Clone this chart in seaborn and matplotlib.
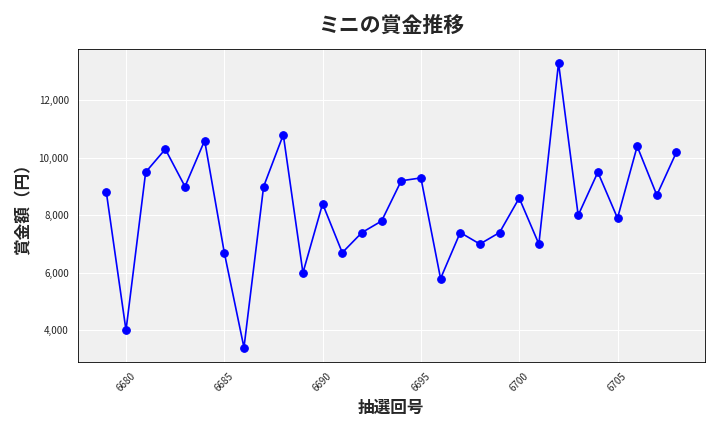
import numpy as np
import pandas as pd
import matplotlib
matplotlib.use("Agg")
import matplotlib.pyplot as plt
import seaborn as sns
from matplotlib.ticker import FuncFormatter

sns.set_style("whitegrid")
plt.rcParams['font.family'] = ['Noto Sans CJK JP', 'DejaVu Sans']

draws = list(range(6679, 6709))
prizes = [8800, 4000, 9500, 10300, 9000, 10600, 6700, 3400, 9000, 10800,
          6000, 8400, 6700, 7400, 7800, 9200, 9300, 5800, 7400, 7000,
          7400, 8600, 7000, 13300, 8000, 9500, 7900, 10400, 8700, 10200]
df = pd.DataFrame({"draw": draws, "prize": prizes})

fig, ax = plt.subplots(figsize=(7.2, 4.32), dpi=100)
ax.set_facecolor("#f0f0f0")
sns.lineplot(data=df, x="draw", y="prize", color="blue", marker="o",
             markersize=5.5, markeredgecolor="blue", linewidth=1.2, ax=ax)
ax.grid(color="white", linewidth=0.8)
for s in ax.spines.values():
    s.set_color("black")
    s.set_linewidth(0.6)
ax.set_title("ミニの賞金推移", fontsize=15, fontweight="bold", pad=12)
ax.set_xlabel("抽選回号", fontsize=12, fontweight="bold")
ax.set_ylabel("賞金額（円）", fontsize=12, fontweight="bold")
ax.yaxis.set_major_formatter(FuncFormatter(lambda v, p: f"{int(v):,}"))
ax.tick_params(axis="both", length=3, color="black")
ax.tick_params(axis="x", labelrotation=45, labelsize=7)
ax.tick_params(axis="y", labelsize=7)
plt.tight_layout()
plt.savefig("out.png", dpi=100)
